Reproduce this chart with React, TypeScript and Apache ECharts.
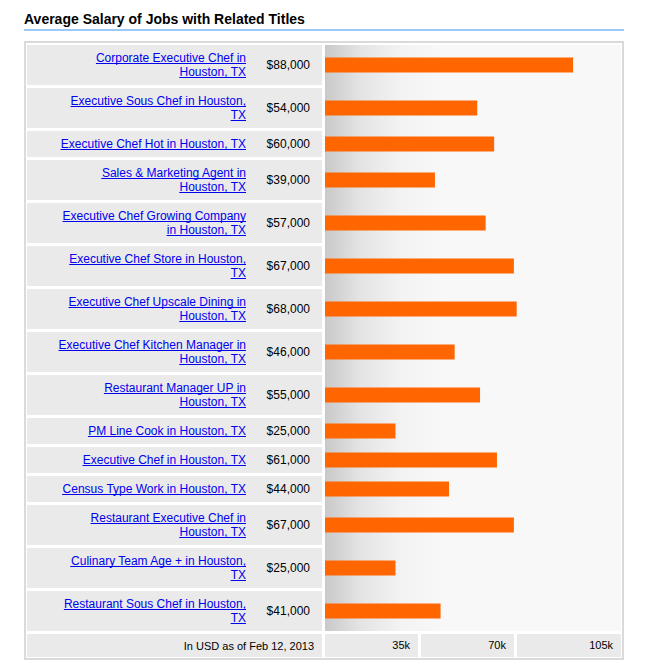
import React, { useEffect, useRef } from 'react';
import * as echarts from 'echarts';

const CHART_TITLE = 'Average Salary of Jobs with Related Titles';

const jobTitles = [
  'Corporate Executive Chef in\nHouston, TX',
  'Executive Sous Chef in Houston,\nTX',
  'Executive Chef Hot in Houston, TX',
  'Sales & Marketing Agent in\nHouston, TX',
  'Executive Chef Growing Company\nin Houston, TX',
  'Executive Chef Store in Houston,\nTX',
  'Executive Chef Upscale Dining in\nHouston, TX',
  'Executive Chef Kitchen Manager in\nHouston, TX',
  'Restaurant Manager UP in\nHouston, TX',
  'PM Line Cook in Houston, TX',
  'Executive Chef in Houston, TX',
  'Census Type Work in Houston, TX',
  'Restaurant Executive Chef in\nHouston, TX',
  'Culinary Team Age + in Houston,\nTX',
  'Restaurant Sous Chef in Houston,\nTX',
];

const salaries = [88000, 54000, 60000, 39000, 57000, 67000, 68000, 46000, 55000, 25000, 61000, 44000, 67000, 25000, 41000];

const FOOTNOTE = 'In USD as of Feb 12, 2013';
const AXIS_MIN = 0;
const AXIS_MAX = 105000;
const AXIS_STEP = 35000;

const FONT = '"Liberation Sans", Arial, Helvetica, sans-serif';

export default function App() {
  const ref = useRef<HTMLDivElement>(null);

  useEffect(() => {
    if (!ref.current) return;
    const chart = echarts.init(ref.current, null, { renderer: 'svg' });

    const PLOT_L = 325;
    const PLOT_W = 296;
    const TOP0 = 45;
    const GAP = 3;
    const LINE_H = 14;
    const LABEL_RIGHT = 246;
    const CELL_L = 27;
    const CELL_R = 322;
    // footer cells under the plot: [x, width]
    const FOOT_CELLS = [[325, 93], [421, 93], [517, 104]];

    const canvas = document.createElement('canvas');
    const ctx = canvas.getContext('2d')!;
    ctx.font = `12px ${FONT}`;

    const rows: { top: number; h: number; lines: string[] }[] = [];
    let y = TOP0;
    jobTitles.forEach((t) => {
      const lines = t.split('\n');
      const h = lines.length > 1 ? 40 : 26;
      rows.push({ top: y, h, lines });
      y += h + GAP;
    });
    const plotBottom = y - GAP;
    const footTop = y;
    const footH = 23;

    const grids: any[] = [];
    const xAxes: any[] = [];
    const yAxes: any[] = [];
    const series: any[] = [];
    const graphics: any[] = [];

    graphics.push({
      type: 'rect',
      z: -10,
      shape: { x: 25, y: 42, width: 598, height: 617 },
      style: { fill: '#fff', stroke: '#dadada', lineWidth: 2 },
    });
    graphics.push({
      type: 'line',
      z: -10,
      shape: { x1: 24, y1: 30, x2: 624, y2: 30 },
      style: { stroke: '#9ccaf6', lineWidth: 2 },
    });
    graphics.push({
      type: 'rect',
      z: -9,
      shape: { x: PLOT_L, y: TOP0, width: PLOT_W, height: plotBottom - TOP0 },
      style: {
        fill: new echarts.graphic.LinearGradient(0, 0, 1, 0, [
          { offset: 0, color: '#c9c9c9' },
          { offset: 0.12, color: '#e4e4e4' },
          { offset: 0.26, color: '#f3f3f3' },
          { offset: 0.4, color: '#f8f8f8' },
          { offset: 1, color: '#f8f8f8' },
        ]),
      },
    });

    rows.forEach((r, i) => {
      graphics.push({
        type: 'rect',
        z: -9,
        shape: { x: CELL_L, y: r.top, width: CELL_R - CELL_L, height: r.h },
        style: { fill: '#eaeaea' },
      });
      const c = r.top + r.h / 2;
      r.lines.forEach((ln, k) => {
        const lc = c + (k - (r.lines.length - 1) / 2) * LINE_H;
        const w = ctx.measureText(ln).width;
        const uy = Math.round(lc + 5) + 0.5;
        graphics.push({
          type: 'line',
          z: 5,
          shape: { x1: LABEL_RIGHT - w, y1: uy, x2: LABEL_RIGHT, y2: uy },
          style: { stroke: '#0000ee', lineWidth: 1 },
        });
      });

      grids.push({ left: PLOT_L, width: PLOT_W, top: r.top, height: r.h, containLabel: false });
      xAxes.push({
        gridIndex: i,
        type: 'value',
        min: AXIS_MIN,
        max: AXIS_MAX,
        show: false,
      });
      yAxes.push({
        gridIndex: i,
        type: 'category',
        data: [jobTitles[i]],
        axisLine: { show: false },
        axisTick: { show: false },
        splitLine: { show: false },
        axisLabel: {
          show: true,
          margin: PLOT_L - LABEL_RIGHT,
          color: '#0000ee',
          fontSize: 12,
          lineHeight: LINE_H,
          fontFamily: FONT,
          align: 'right',
        },
      });
      series.push({
        type: 'bar',
        xAxisIndex: i,
        yAxisIndex: i,
        data: [salaries[i]],
        barWidth: 15,
        itemStyle: { color: '#ff6600' },
        label: {
          show: true,
          position: [-15, 7.5],
          align: 'right',
          verticalAlign: 'middle',
          color: '#000',
          fontSize: 12,
          fontFamily: FONT,
          formatter: (p: any) => '$' + Number(p.value).toLocaleString('en-US'),
        },
      });
    });

    graphics.push({
      type: 'rect', z: -9,
      shape: { x: CELL_L, y: footTop, width: CELL_R - CELL_L, height: footH },
      style: { fill: '#eaeaea' },
    });
    FOOT_CELLS.forEach(([x, w]) => {
      graphics.push({
        type: 'rect', z: -9,
        shape: { x, y: footTop, width: w, height: footH },
        style: { fill: '#eaeaea' },
      });
    });

    // tick label sits 8px inside the right edge of its footer cell
    const rich: any = {};
    FOOT_CELLS.forEach(([x, w], k) => {
      const tickX = PLOT_L + ((AXIS_STEP * (k + 1) - AXIS_MIN) / (AXIS_MAX - AXIS_MIN)) * PLOT_W;
      const pad = Math.max(0, tickX - (x + w - 8));
      rich['t' + k] = { padding: [0, pad, 0, 0], fontSize: 11, fontFamily: FONT, color: '#000' };
    });

    const fi = rows.length;
    grids.push({ left: PLOT_L, width: PLOT_W, top: footTop, height: footH });
    xAxes.push({
      gridIndex: fi,
      type: 'value',
      min: AXIS_MIN,
      max: AXIS_MAX,
      interval: AXIS_STEP,
      position: 'bottom',
      axisLine: { show: false },
      axisTick: { show: false },
      splitLine: { show: false },
      axisLabel: {
        show: true,
        inside: true,
        margin: 12,
        showMinLabel: false,
        align: 'right',
        verticalAlign: 'middle',
        color: '#000',
        fontSize: 11,
        fontFamily: FONT,
        rich,
        formatter: (v: number) => {
          const k = Math.round(v / AXIS_STEP) - 1;
          return `{t${k}|${v / 1000}k}`;
        },
      },
    });
    yAxes.push({
      gridIndex: fi,
      type: 'category',
      data: [FOOTNOTE],
      axisLine: { show: false },
      axisTick: { show: false },
      splitLine: { show: false },
      axisLabel: {
        show: true,
        margin: 11,
        color: '#000',
        fontSize: 11,
        fontFamily: FONT,
        align: 'right',
      },
    });

    chart.setOption({
      animation: false,
      backgroundColor: '#fff',
      title: {
        text: CHART_TITLE,
        left: 24,
        top: 12,
        padding: 0,
        textStyle: { fontSize: 14, fontWeight: 'bold', color: '#000', fontFamily: FONT },
      },
      grid: grids,
      xAxis: xAxes,
      yAxis: yAxes,
      series,
      graphic: { elements: graphics },
    });

    return () => chart.dispose();
  }, []);

  return (
    <div
      ref={ref}
      style={{ position: 'fixed', left: 0, top: 0, width: 647, height: 668, background: '#fff' }}
    />
  );
}
